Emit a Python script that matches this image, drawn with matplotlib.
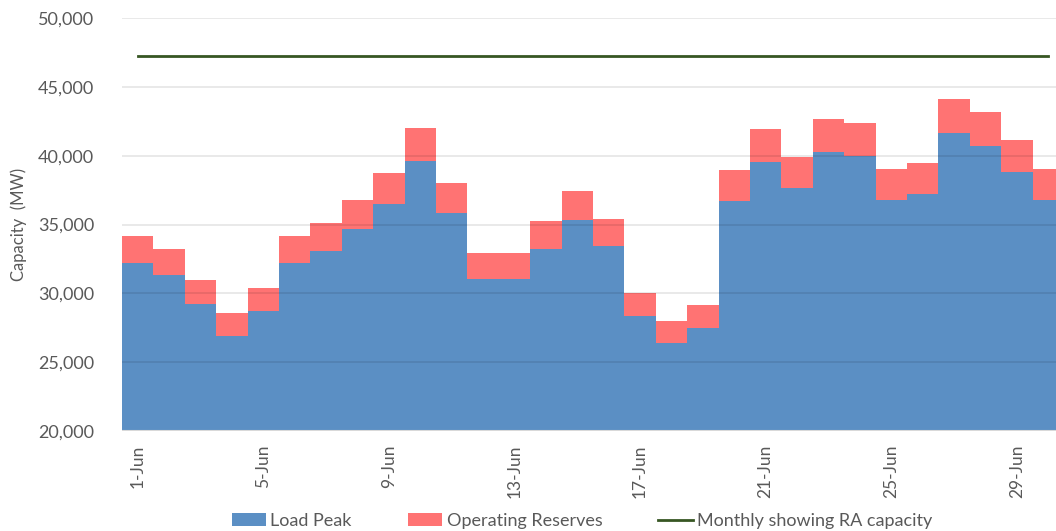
import matplotlib
matplotlib.use("Agg")
import matplotlib.pyplot as plt
import numpy as np
from matplotlib.patches import Patch
from matplotlib.lines import Line2D
from matplotlib.ticker import FuncFormatter

days = [f"{d}-Jun" for d in range(1, 31)]
load_peak = [32200, 31330, 29230, 26920, 28740, 32220, 33080, 34700, 36490, 39610,
             35820, 31050, 31050, 33240, 35330, 33460, 28380, 26390, 27480, 36710,
             39520, 37650, 40270, 39980, 36780, 37240, 41630, 40720, 38790, 36780]
operating_reserves = [1970, 1890, 1720, 1630, 1650, 1950, 2030, 2080, 2230, 2400,
                      2170, 1900, 1900, 2020, 2100, 1960, 1670, 1600, 1650, 2230,
                      2400, 2280, 2390, 2370, 2230, 2210, 2510, 2430, 2350, 2230]
ra_capacity = [47260] * 30
tick_days = [0, 4, 8, 12, 16, 20, 24, 28]

plt.rcParams['font.family'] = ['Lato', 'DejaVu Sans']

W, H = 1056, 531
fig = plt.figure(figsize=(W / 100, H / 100), dpi=100)
ax = fig.add_axes([122 / W, (H - 431) / H, (1064 - 122) / W, (431 - 18) / H])

n = len(days)
x = np.arange(n)
edges = np.arange(n + 1) - 0.5
load = np.array(load_peak)
total = load + np.array(operating_reserves)
ymin = 20000

blue = '#5B8FC4'
red = '#FF7373'
green = '#375623'

ax.stairs(load, edges, baseline=ymin, fill=True, color=blue, zorder=2, lw=0)
ax.stairs(total, edges, baseline=load, fill=True, color=red, zorder=2, lw=0)
ax.plot(x, ra_capacity, color=green, lw=2, zorder=4)

ax.set_xlim(-0.5, n - 0.5)
ax.set_ylim(20000, 50000)
ax.set_yticks(np.arange(20000, 50001, 5000))
ax.yaxis.set_major_formatter(FuncFormatter(lambda v, p: f"{int(v):,}"))
ax.set_xticks(tick_days)
ax.set_xticklabels([days[i] for i in tick_days], rotation=90)
ax.tick_params(axis='x', length=0, pad=10, labelsize=12.5, colors='#595959')
ax.tick_params(axis='y', length=0, pad=20, labelsize=13, colors='#595959')

for v in np.arange(25000, 50001, 5000):
    ax.axhline(v, color='black', alpha=0.1, lw=1.2, zorder=3)
ax.axhline(20000, color='#d9d9d9', lw=1.5, zorder=3)

for s in ax.spines.values():
    s.set_visible(False)

ax.set_ylabel('Capacity  (MW)', fontsize=12, color='#595959')
ax.yaxis.set_label_coords(-(122 - 27) / (1064 - 122), 0.5)

handles = [Patch(facecolor=blue, edgecolor='none'),
           Patch(facecolor=red, edgecolor='none'),
           Line2D([0], [0], color=green, lw=2)]
labels = ['Load Peak', 'Operating Reserves', 'Monthly showing RA capacity']
leg = fig.legend(handles, labels, loc='center', bbox_to_anchor=(582 / W, 10 / H),
                 ncol=3, frameon=False, fontsize=13, handlelength=1.9,
                 handletextpad=0.25, columnspacing=3.1, borderaxespad=0)
for t in leg.get_texts():
    t.set_color('#595959')

fig.savefig('out.png', dpi=100)
